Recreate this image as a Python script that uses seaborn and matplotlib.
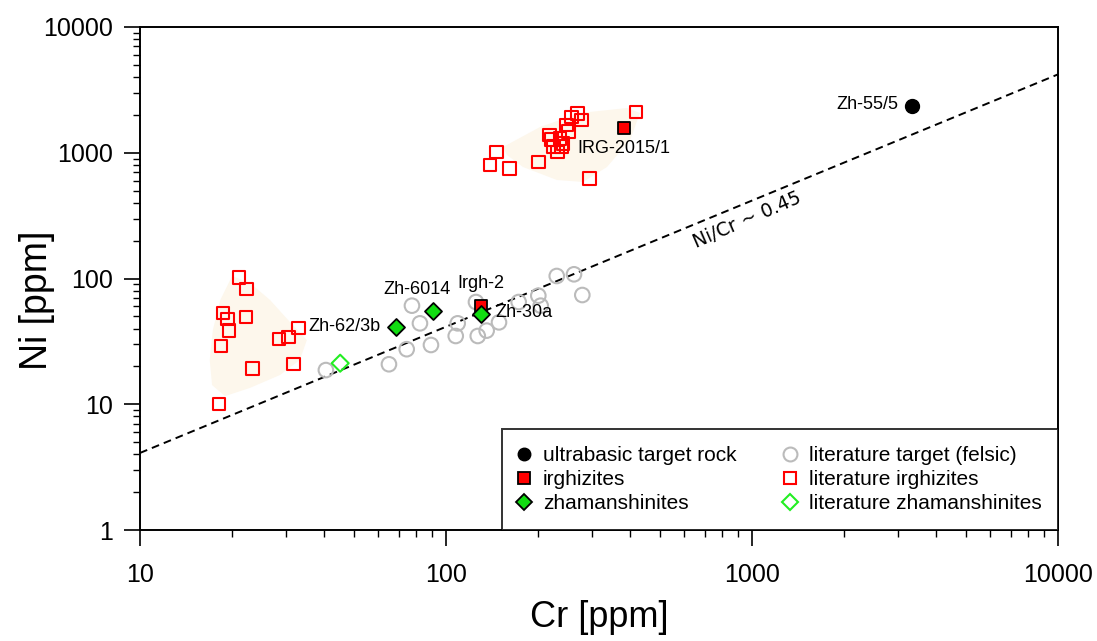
import numpy as np
import matplotlib
matplotlib.use('Agg')
import matplotlib.pyplot as plt
import seaborn as sns
from matplotlib.lines import Line2D
from matplotlib.ticker import LogLocator, FixedLocator, FixedFormatter, NullFormatter

# ---- data (Cr, Ni in ppm) ----
ultrabasic_cr = [3335]
ultrabasic_ni = [2355]
ultrabasic_names = ['Zh-55/5']

irgh_cr = [382, 129.7]
irgh_ni = [1574, 60.8]
irgh_names = ['IRG-2015/1', 'Irgh-2']

zham_cr = [68.7, 90.5, 129.7]
zham_ni = [41.4, 55.4, 52.2]
zham_names = ['Zh-62/3b', 'Zh-6014', 'Zh-30a']

lit_target_cr = [40.5, 65.1, 74.4, 77.4, 82.2, 89.3, 107.6, 109.2, 127, 135.8,
                 149, 125.3, 172.8, 200.3, 203.9, 230.1, 262, 278.9]
lit_target_ni = [18.7, 20.8, 27.4, 60.8, 44.0, 29.6, 34.9, 44.0, 34.9, 38.5,
                 44.8, 65.0, 65.0, 73.0, 60.8, 104.7, 108, 73.9]

lit_irgh_cr = [21.1, 22.3, 18.7, 19.3, 19.5, 22.2, 18.4, 23.3, 18.1, 28.5, 30.6, 33.0, 31.7,
               417.7, 269.4, 257.5, 277.6, 248, 251, 217.6, 221.5, 235.8, 241.7, 224.2,
               231.1, 238.8, 146.4, 139.2, 161, 200.3, 294]
lit_irgh_ni = [101.5, 82.5, 52.9, 47.4, 38.5, 49.2, 29.0, 19.2, 10.0, 33.2, 34.1, 40.4, 20.9,
               2109, 2059, 1924, 1821, 1662, 1471, 1384, 1279, 1303, 1189, 1117,
               1019, 1117, 1019, 799, 752, 840, 626]

lit_zham_cr = [45.1]
lit_zham_ni = [21.2]

# Ni/Cr reference line
line_cr = [10, 10000]
line_ni = [4.1, 4200]

# shaded fields around the literature irghizite groups
field_low_cr = [20.0, 22.9, 26.6, 30.9, 35.1, 33.3, 28.7, 22.9, 18.96, 17.2, 16.9, 17.3, 18.3]
field_low_ni = [104.7, 92.1, 67.5, 45.1, 32.4, 22.5, 17.1, 13.5, 11.6, 14.2, 22.5, 38.9, 67.5]
field_high_cr = [153.6, 202.9, 274.1, 390.4, 430.5, 399.4, 335.8, 280.4, 230.5, 178.5, 158.2]
field_high_ni = [1111, 1602, 2070, 2269, 2070, 1263, 770, 585.6, 607, 770, 959]

sns.set_style('ticks')
plt.rcParams['font.family'] = ['Liberation Sans', 'DejaVu Sans']
plt.rcParams['text.color'] = 'black'
plt.rcParams['axes.labelcolor'] = 'black'
plt.rcParams['xtick.color'] = 'black'
plt.rcParams['ytick.color'] = 'black'
plt.rcParams['xtick.labelcolor'] = 'black'
plt.rcParams['ytick.labelcolor'] = 'black'

fig = plt.figure(figsize=(10.97, 6.41), dpi=100)
ax = fig.add_axes([140 / 1097, 1 - 530 / 641, 918 / 1097, 503 / 641])

ax.fill(field_low_cr, field_low_ni, color='#fdf7ec', lw=0, zorder=0)
ax.fill(field_high_cr, field_high_ni, color='#fdf7ec', lw=0, zorder=0)

sns.lineplot(x=line_cr, y=line_ni, ax=ax, color='black', lw=1.4,
             dashes=False, zorder=1).lines[-1].set_dashes((4, 2.6))

sns.scatterplot(x=lit_target_cr, y=lit_target_ni, ax=ax, marker='o', s=110,
                color='#bbbbbb', facecolor='none', edgecolor='#bbbbbb', linewidth=1.5, zorder=2)
sns.scatterplot(x=lit_irgh_cr, y=lit_irgh_ni, ax=ax, marker='s', s=80,
                color='red', facecolor='none', edgecolor='red', linewidth=1.5, zorder=3)
sns.scatterplot(x=lit_zham_cr, y=lit_zham_ni, ax=ax, marker='D', s=75,
                color='#22ee22', facecolor='none', edgecolor='#22ee22', linewidth=1.5, zorder=3)
sns.scatterplot(x=ultrabasic_cr, y=ultrabasic_ni, ax=ax, marker='o', s=100,
                color='black', edgecolor='black', linewidth=1, zorder=4)
sns.scatterplot(x=irgh_cr, y=irgh_ni, ax=ax, marker='s', s=80,
                color='red', edgecolor='black', linewidth=1.3, zorder=4)
sns.scatterplot(x=zham_cr, y=zham_ni, ax=ax, marker='D', s=75,
                color='#11dd11', edgecolor='black', linewidth=1.3, zorder=5)

# sample labels (offsets in points)
label_fs = 13
offsets = {
    'Zh-55/5': ((-10, 1), 'right', 'center'),
    'IRG-2015/1': ((-34, -15), 'left', 'center'),
    'Irgh-2': ((0, 16), 'center', 'center'),
    'Zh-62/3b': ((-11, 0), 'right', 'center'),
    'Zh-6014': ((-11, 15), 'center', 'center'),
    'Zh-30a': ((11, 1), 'left', 'center'),
}
for cr, ni, name in zip(ultrabasic_cr + irgh_cr + zham_cr,
                        ultrabasic_ni + irgh_ni + zham_ni,
                        ultrabasic_names + irgh_names + zham_names):
    (dx, dy), ha, va = offsets[name]
    ax.annotate(name, (cr, ni), xytext=(dx, dy), textcoords='offset points',
                ha=ha, va=va, fontsize=label_fs, zorder=6)

ax.text(964, 292, 'Ni/Cr ~ 0.45', rotation=23.5, ha='center', va='center',
        fontsize=13.5, family='DejaVu Sans', zorder=6)

ax.set_xscale('log')
ax.set_yscale('log')
ax.set_xlim(10, 10000)
ax.set_ylim(1, 10000)

xt = [10, 100, 1000, 10000]
yt = [1, 10, 100, 1000, 10000]
ax.xaxis.set_major_locator(FixedLocator(xt))
ax.xaxis.set_major_formatter(FixedFormatter([str(v) for v in xt]))
ax.yaxis.set_major_locator(FixedLocator(yt))
ax.yaxis.set_major_formatter(FixedFormatter([str(v) for v in yt]))
ax.xaxis.set_minor_locator(LogLocator(base=10, subs=np.arange(2, 10), numticks=20))
ax.yaxis.set_minor_locator(LogLocator(base=10, subs=np.arange(2, 10), numticks=20))
ax.xaxis.set_minor_formatter(NullFormatter())
ax.yaxis.set_minor_formatter(NullFormatter())

ax.tick_params(which='major', direction='out', length=11.5, width=1.2, labelsize=18, color='black')
ax.tick_params(which='minor', direction='out', length=5, width=1.0, color='black')
ax.tick_params(axis='x', which='major', pad=12)
ax.tick_params(axis='y', which='major', pad=8)
for sp in ax.spines.values():
    sp.set_visible(True)
    sp.set_color('black')
    sp.set_linewidth(1.4)

ax.set_xlabel('Cr [ppm]', fontsize=26)
ax.set_ylabel('Ni [ppm]', fontsize=27)
ax.xaxis.set_label_coords(0.5, (530 - 600) / 503)
ax.yaxis.set_label_coords((55 - 140) / 918, (530 - 300) / 503)

handles = [
    Line2D([], [], ls='none', marker='o', ms=9, mfc='black', mec='black', label='ultrabasic target rock'),
    Line2D([], [], ls='none', marker='s', ms=9, mfc='red', mec='black', mew=1.3, label='irghizites'),
    Line2D([], [], ls='none', marker='D', ms=8.5, mfc='#11dd11', mec='black', mew=1.3, label='zhamanshinites'),
    Line2D([], [], ls='none', marker='o', ms=10, mfc='none', mec='#bbbbbb', mew=1.5, label='literature target (felsic)'),
    Line2D([], [], ls='none', marker='s', ms=9, mfc='none', mec='red', mew=1.5, label='literature irghizites'),
    Line2D([], [], ls='none', marker='D', ms=8.5, mfc='none', mec='#22ee22', mew=1.5, label='literature zhamanshinites'),
]
leg = ax.legend(handles=handles, ncol=2, loc='lower right', bbox_to_anchor=(1, 0),
                borderaxespad=0, fontsize=15, frameon=True, fancybox=False,
                borderpad=0.8, handlelength=0.5, handletextpad=0.65,
                labelspacing=0.25, columnspacing=2.3)
leg.get_frame().set_edgecolor('black')
leg.get_frame().set_linewidth(1.4)
leg.set_zorder(7)

fig.savefig('out.png', dpi=100)
